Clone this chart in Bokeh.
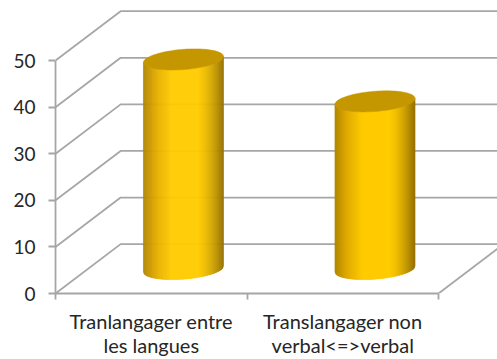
import numpy as np
from bokeh.plotting import figure
from bokeh.embed import file_html
from bokeh.resources import INLINE
from bokeh.models import Range1d, FixedTicker, LinearAxis

categories_line1 = ["Tranlangager entre", "Translangager non"]
categories_line2 = ["les langues", "verbal<=>verbal"]
values = [45, 36]
y_ticks = [0, 10, 20, 30, 40, 50]

GRID = "#A6A6A6"
TEXT = "#262626"
TOP = "#C49600"
DX, DY = 0.34, 10.6        # depth offset of the back wall, in data units
RX, AY, BY = 0.209, 0.64, 2.17   # cylinder cross-section
DEPTH = 0.495

p = figure(width=497, height=359, output_backend="svg", toolbar_location=None,
           x_range=Range1d(0, 2.308), y_range=Range1d(0, 62.9),
           min_border_left=55, min_border_right=0, min_border_top=0, min_border_bottom=66,
           outline_line_color=None, background_fill_color="white", border_fill_color="white")
p.xgrid.visible = False
p.ygrid.visible = False

# walls
n = len(values)
for v in y_ticks:
    p.line([0, DX, n + 2], [v, v + DY, v + DY], line_color=GRID, line_width=1.8)
p.line([n, n + DX], [0, DY], line_color=GRID, line_width=1.8)


def mix(a, b, f):
    ca = [int(a[i:i + 2], 16) for i in (1, 3, 5)]
    cb = [int(b[i:i + 2], 16) for i in (1, 3, 5)]
    return "#%02x%02x%02x" % tuple(int(round(x + (y - x) * f)) for x, y in zip(ca, cb))


def shade(u):
    if u < -0.7:
        return mix("#B08600", "#E0AA00", (u + 1) / 0.3)
    if u < -0.3:
        return mix("#E0AA00", "#FFCC00", (u + 0.7) / 0.4)
    if u < 0.35:
        return "#FFCC00"
    return mix("#FFCC00", "#957000", ((u - 0.35) / 0.65) ** 1.5)


edges = np.linspace(-1, 1, 81)
for i, val in enumerate(values):
    cx = i + 0.5 + DEPTH * DX
    base = DEPTH * DY
    xs, ys, cols = [], [], []
    for a, b in zip(edges[:-1], edges[1:]):
        fa = AY * a - BY * np.sqrt(max(0, 1 - a * a))
        fb = AY * b - BY * np.sqrt(max(0, 1 - b * b))
        xs.append([cx + RX * a, cx + RX * b, cx + RX * b, cx + RX * a])
        ys.append([base + fa, base + fb, base + val + fb, base + val + fa])
        cols.append(shade((a + b) / 2))
    p.patches(xs, ys, fill_color=cols, line_color=cols, line_width=0.6)
    t = np.linspace(0, 2 * np.pi, 90)
    p.patch(cx + RX * np.cos(t), base + val + AY * np.cos(t) + BY * np.sin(t),
            fill_color=TOP, line_color=TOP, line_width=0.5)

ya = p.yaxis[0]
ya.ticker = FixedTicker(ticks=y_ticks)
ya.bounds = (0, 50)
ya.axis_line_color = GRID
ya.axis_line_width = 1.8
ya.major_tick_line_color = GRID
ya.major_tick_line_width = 1.8
ya.major_tick_out = 7
ya.major_tick_in = 0
ya.minor_tick_out = 0
ya.major_label_text_font = "Lato"
ya.major_label_text_font_size = "19px"
ya.major_label_text_color = TEXT
ya.major_label_standoff = 13

centers = [i + 0.5 for i in range(n)]
xa = p.xaxis[0]
xa.ticker = FixedTicker(ticks=centers, minor_ticks=list(range(n + 1)))
xa.bounds = (0, n)
xa.major_label_overrides = {c: t for c, t in zip(centers, categories_line1)}
xa.axis_line_color = GRID
xa.axis_line_width = 1.8
xa.major_tick_out = 0
xa.major_tick_in = 0
xa.minor_tick_line_color = GRID
xa.minor_tick_line_width = 1.8
xa.minor_tick_out = 6
xa.minor_tick_in = 0
xa.major_label_text_font = "Lato"
xa.major_label_text_font_size = "20px"
xa.major_label_text_color = TEXT
xa.major_label_text_line_height = 1.0
xa.major_label_standoff = 9

xb = LinearAxis(ticker=FixedTicker(ticks=centers),
                major_label_overrides={c: t for c, t in zip(centers, categories_line2)},
                axis_line_color=None, major_tick_line_color=None, minor_tick_line_color=None,
                major_tick_out=0, major_tick_in=0, minor_tick_out=0, minor_tick_in=0,
                major_label_text_font="Lato", major_label_text_font_size="20px",
                major_label_text_line_height=1.0,
                major_label_text_color=TEXT, major_label_standoff=-3)
p.add_layout(xb, "below")

open("out.html", "w").write(file_html(p, INLINE))
